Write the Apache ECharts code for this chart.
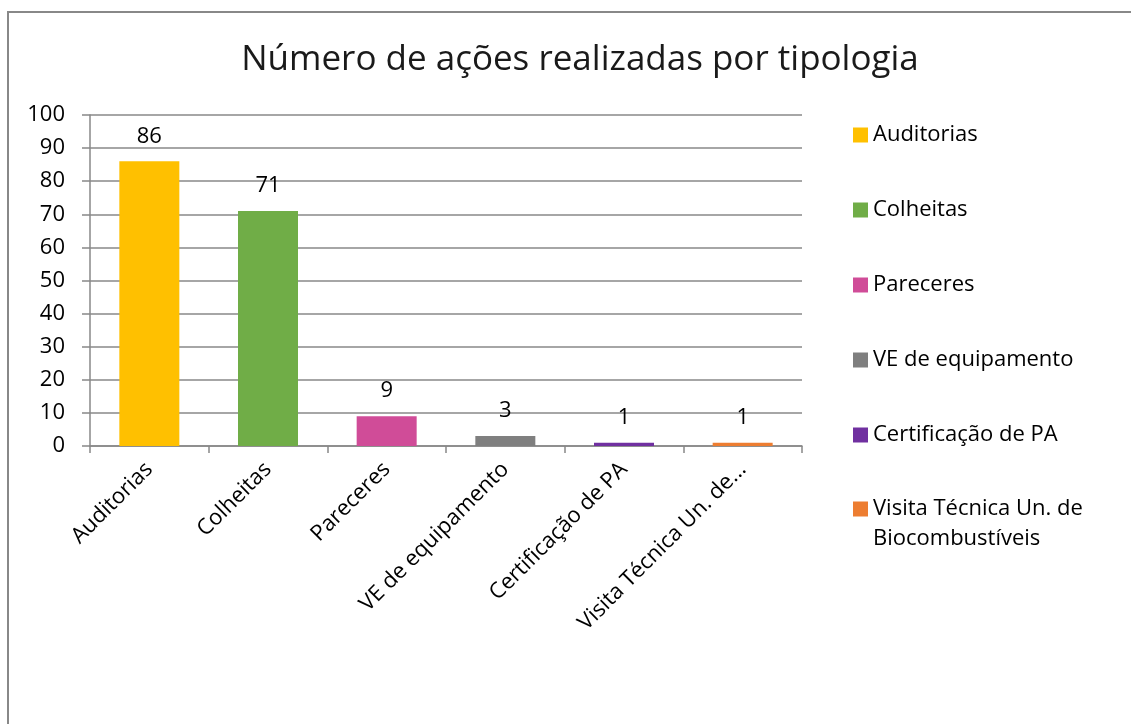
<!DOCTYPE html>
<html>
<head>
<meta charset="utf-8">
<script src="https://cdn.jsdelivr.net/npm/echarts@6/dist/echarts.min.js"></script>
<style>
html,body{margin:0;padding:0;background:#fff;}
#chart{width:1131px;height:724px;}
</style>
</head>
<body>
<div id="chart"></div>
<script>
var categories = ['Auditorias', 'Colheitas', 'Pareceres', 'VE de equipamento', 'Certificação de PA', 'Visita Técnica Un. de Biocombustíveis'];
var tickLabels = ['Auditorias', 'Colheitas', 'Pareceres', 'VE de equipamento', 'Certificação de PA', 'Visita Técnica Un. de...'];
var legendLabels = ['Auditorias', 'Colheitas', 'Pareceres', 'VE de equipamento', 'Certificação de PA', ' \nVisita Técnica Un. de\nBiocombustíveis'];
var values = [86, 71, 9, 3, 1, 1];
var colors = ['#FFC000', '#70AD47', '#D04C98', '#7F7F7F', '#7030A0', '#ED7D31'];
var yTicks = [0, 10, 20, 30, 40, 50, 60, 70, 80, 90, 100];

var FONT = '"Open Sans", "Noto Sans", sans-serif';
var chart = echarts.init(document.getElementById('chart'));

var series = categories.map(function (name, i) {
  return {
    name: name,
    type: 'bar',
    stack: 'one',
    barWidth: 60,
    itemStyle: { color: colors[i] },
    label: {
      show: true, position: 'top', distance: 14,
      color: '#000', fontSize: 22, fontFamily: FONT,
      formatter: function (p) { return p.value; }
    },
    data: categories.map(function (c, j) { return j === i ? values[i] : null; })
  };
});

chart.setOption({
  animation: false,
  backgroundColor: '#fff',
  graphic: [{
    type: 'rect', silent: true,
    shape: { x: 8, y: 12, width: 1140, height: 800 },
    style: { fill: 'none', stroke: '#888', lineWidth: 2 }
  }],
  title: {
    text: 'Número de ações realizadas por tipologia',
    left: 575, textAlign: 'center', top: 38,
    textStyle: { fontSize: 35, fontWeight: 'normal', color: '#1a1a1a', fontFamily: FONT }
  },
  legend: [{
    orient: 'vertical', left: 848, top: 115, itemGap: 45,
    itemWidth: 15, itemHeight: 15, icon: 'rect',
    data: categories.slice(0, 5),
    formatter: function (n) { return legendLabels[categories.indexOf(n)]; },
    textStyle: { color: '#000', fontSize: 22, fontFamily: FONT, lineHeight: 30 }
  }, {
    orient: 'vertical', left: 848, top: 459,
    itemWidth: 15, itemHeight: 15, icon: 'rect',
    data: [categories[5]],
    formatter: function (n) { return legendLabels[categories.indexOf(n)]; },
    textStyle: { color: '#000', fontSize: 22, fontFamily: FONT, lineHeight: 30 }
  }],
  grid: { left: 90, right: 329, top: 115, bottom: 278 },
  xAxis: {
    type: 'category',
    data: categories,
    axisLine: { lineStyle: { color: '#888', width: 1.5 } },
    axisTick: { show: true, length: 7, alignWithLabel: false, lineStyle: { color: '#888', width: 1.5 } },
    axisLabel: {
      rotate: 45, interval: 0, margin: 20,
      color: '#000', fontSize: 22, fontFamily: FONT,
      formatter: function (v, i) { return tickLabels[i]; }
    }
  },
  yAxis: {
    type: 'value', min: 0, max: 100, interval: 10,
    axisLine: { show: true, lineStyle: { color: '#888', width: 1.5 } },
    axisTick: { show: true, length: 8, lineStyle: { color: '#888', width: 1.5 } },
    splitLine: { lineStyle: { color: '#888', width: 1.5 } },
    axisLabel: {
      margin: 25, color: '#000', fontSize: 22, fontFamily: FONT,
      formatter: function (v) { return yTicks.indexOf(v) >= 0 ? String(v) : ''; }
    }
  },
  series: series
});
</script>
</body>
</html>
